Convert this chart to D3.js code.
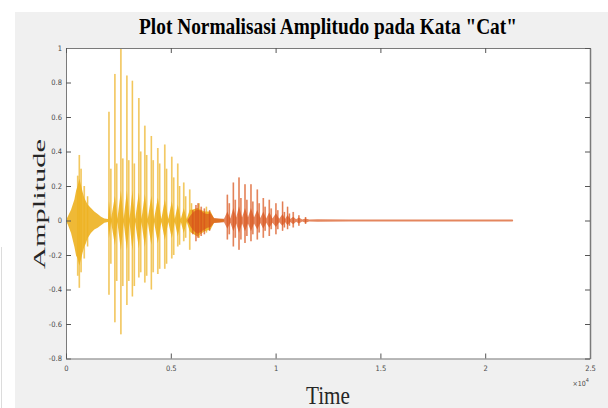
<!DOCTYPE html>
<html><head><meta charset="utf-8">
<script src="https://cdn.jsdelivr.net/npm/d3@7"></script>
<style>html,body{margin:0;padding:0;background:#fff;}svg{display:block;}</style>
</head><body>
<script>
// ---- data ----
const chartTitle = 'Plot Normalisasi Amplitudo pada Kata "Cat"';
const xLabel = "Time";
const yLabel = "Amplitude";
const xTicks = [0, 5000, 10000, 15000, 20000, 25000];
const xTickLabels = ["0", "0.5", "1", "1.5", "2", "2.5"];
const yTicks = [-0.8, -0.6, -0.4, -0.2, 0, 0.2, 0.4, 0.6, 0.8, 1];
const yTickLabels = ["-0.8", "-0.6", "-0.4", "-0.2", "0", "0.2", "0.4", "0.6", "0.8", "1"];
const xExponent = "4";

// series 1 (yellow): dense body envelope
const yellowBodyT  = [0, 80, 240, 400, 480, 560, 635, 720, 800, 870, 950, 1030, 1190, 1350, 1510, 1670, 1830, 2000, 2050, 2150, 2333, 2450, 2619, 2750, 2905, 3030, 3167, 3300, 3476, 3600, 3762, 3900, 4071, 4200, 4381, 4550, 4714, 4880, 5048, 5190, 5333, 5480, 5619, 5760, 5905, 6000, 6270, 6600, 6900, 7063, 7520, 7550];
const yellowBodyHi = [0, 0.02, 0.06, 0.12, 0.17, 0.2, 0.24, 0.2, 0.16, 0.13, 0.11, 0.09, 0.07, 0.05, 0.035, 0.02, 0.01, 0.006, 0.11, 0.006, 0.14, 0.006, 0.17, 0.006, 0.17, 0.006, 0.17, 0.006, 0.16, 0.006, 0.15, 0.006, 0.14, 0.006, 0.13, 0.006, 0.12, 0.006, 0.11, 0.006, 0.09, 0.006, 0.07, 0.006, 0.06, 0.06, 0.07, 0.05, 0.05, 0.01, 0.005, 0];
const yellowBodyLo = [0, -0.02, -0.07, -0.15, -0.2, -0.22, -0.26, -0.22, -0.18, -0.15, -0.13, -0.1, -0.07, -0.05, -0.04, -0.025, -0.01, -0.006, -0.1, -0.006, -0.14, -0.006, -0.17, -0.006, -0.17, -0.006, -0.17, -0.006, -0.16, -0.006, -0.15, -0.006, -0.14, -0.006, -0.13, -0.006, -0.11, -0.006, -0.1, -0.006, -0.09, -0.006, -0.07, -0.006, -0.06, -0.07, -0.09, -0.06, -0.05, -0.01, -0.005, 0];
// series 1 (yellow): individual peaks
const yellowSpikeT  = [560, 635, 720, 870, 1030, 2050, 2140, 2333, 2420, 2619, 2710, 2905, 2995, 3167, 3260, 3476, 3565, 3762, 3850, 4071, 4160, 4381, 4470, 4714, 4800, 5048, 5140, 5333, 5420, 5619, 5710, 5905, 5990, 6350, 6700];
const yellowSpikeHi = [0.26, 0.38, 0.3, 0.2, 0.14, 0.63, 0.3, 0.85, 0.33, 1.0, 0.36, 0.84, 0.35, 0.81, 0.33, 0.71, 0.4, 0.55, 0.38, 0.49, 0.35, 0.42, 0.33, 0.44, 0.3, 0.37, 0.25, 0.33, 0.2, 0.22, 0.14, 0.18, 0.1, 0.1, 0.08];
const yellowSpikeLo = [-0.32, -0.39, -0.3, -0.22, -0.15, -0.43, -0.25, -0.59, -0.35, -0.66, -0.38, -0.49, -0.35, -0.44, -0.38, -0.33, -0.3, -0.36, -0.32, -0.4, -0.3, -0.31, -0.28, -0.28, -0.25, -0.22, -0.2, -0.15, -0.14, -0.12, -0.1, -0.17, -0.07, -0.1, -0.07];

// series 2 (orange): dense body envelope
const orangeBodyT  = [5794, 5952, 6110, 6270, 6430, 6587, 6750, 6905, 7063, 7300, 7540, 7698, 7840, 7984, 8120, 8254, 8400, 8540, 8680, 8825, 8970, 9127, 9270, 9413, 9550, 9698, 9850, 10016, 10170, 10333, 10450, 10571, 10700, 10841, 10980, 11111, 11270, 11429, 11600, 12000, 13500, 15000, 16500, 18000, 19500, 21300, 21330];
const orangeBodyHi = [0, 0.03, 0.05, 0.06, 0.055, 0.04, 0.035, 0.04, 0.012, 0.01, 0.008, 0.05, 0.01, 0.07, 0.015, 0.08, 0.015, 0.07, 0.015, 0.07, 0.015, 0.06, 0.012, 0.05, 0.01, 0.045, 0.01, 0.04, 0.008, 0.035, 0.007, 0.03, 0.006, 0.02, 0.005, 0.015, 0.004, 0.01, 0.004, 0.005, 0.003, 0.003, 0.003, 0.003, 0.003, 0.003, 0];
const orangeBodyLo = [0, -0.035, -0.06, -0.075, -0.065, -0.05, -0.04, -0.035, -0.012, -0.01, -0.008, -0.045, -0.01, -0.06, -0.015, -0.07, -0.015, -0.06, -0.015, -0.06, -0.015, -0.05, -0.012, -0.045, -0.01, -0.04, -0.01, -0.035, -0.008, -0.03, -0.007, -0.025, -0.006, -0.02, -0.005, -0.015, -0.004, -0.01, -0.004, -0.005, -0.003, -0.003, -0.003, -0.003, -0.003, -0.003, 0];
// series 2 (orange): individual peaks
const orangeSpikeT  = [6050, 6200, 6300, 6450, 6600, 6850, 7698, 7790, 7984, 8075, 8254, 8345, 8540, 8630, 8825, 8915, 9127, 9215, 9413, 9500, 9698, 9790, 10016, 10105, 10333, 10420, 10571, 10660, 10841, 11111, 11429];
const orangeSpikeHi = [0.06, 0.09, 0.1, 0.08, 0.07, 0.06, 0.15, 0.1, 0.22, 0.12, 0.25, 0.13, 0.21, 0.12, 0.21, 0.11, 0.18, 0.1, 0.13, 0.08, 0.12, 0.07, 0.10, 0.06, 0.11, 0.05, 0.08, 0.04, 0.05, 0.03, 0.02];
const orangeSpikeLo = [-0.08, -0.12, -0.1, -0.09, -0.08, -0.06, -0.11, -0.08, -0.15, -0.1, -0.17, -0.11, -0.13, -0.09, -0.12, -0.08, -0.11, -0.07, -0.10, -0.06, -0.09, -0.05, -0.08, -0.05, -0.06, -0.04, -0.05, -0.03, -0.04, -0.03, -0.02];

const colors = {yellow: "#EDB120", orange: "#D95319"};

// ---- drawing ----
const W = 608, H = 408;
const svg = d3.select("body").append("svg").attr("width", W).attr("height", H);
svg.append("rect").attr("x", 15).attr("y", 12).attr("width", W - 15).attr("height", H - 12).attr("fill", "#f0f0f0");
svg.append("line").attr("x1", 1.5).attr("x2", 1.5).attr("y1", 247).attr("y2", H).attr("stroke", "#dcdcdc").attr("stroke-width", 1);

const x = d3.scaleLinear().domain([0, 25000]).range([66, 590]);
const y = d3.scaleLinear().domain([-0.8, 1]).range([358.5, 48]);

svg.append("rect").attr("x", x(0)).attr("y", y(1)).attr("width", x(25000) - x(0)).attr("height", y(-0.8) - y(1)).attr("fill", "#fff");

svg.append("clipPath").attr("id", "clip").append("rect")
  .attr("x", x(0)).attr("y", y(1) - 1).attr("width", x(25000) - x(0)).attr("height", y(-0.8) - y(1) + 1);
const plot = svg.append("g").attr("clip-path", "url(#clip)");

function drawSeries(T, Hi, Lo, sT, sHi, sLo, color, bodyOpacity) {
  const body = T.map((t, i) => ({t, hi: Hi[i], lo: Lo[i]}));
  const spikes = sT.map((t, i) => ({t, hi: sHi[i], lo: sLo[i]}));
  const g = plot.append("g");
  g.selectAll("line.s").data(spikes).join("line").attr("class", "s")
    .attr("x1", d => x(d.t)).attr("x2", d => x(d.t))
    .attr("y1", d => y(d.hi)).attr("y2", d => y(d.lo))
    .attr("stroke", color).attr("stroke-width", 1.8).attr("stroke-opacity", 0.45);
  g.selectAll("line.c").data(spikes).join("line").attr("class", "c")
    .attr("x1", d => x(d.t)).attr("x2", d => x(d.t))
    .attr("y1", d => y(d.hi)).attr("y2", d => y(d.lo))
    .attr("stroke", color).attr("stroke-width", 0.7).attr("stroke-opacity", 0.85);
  const area = d3.area().x(d => x(d.t)).y0(d => y(d.lo) + 0.4).y1(d => y(d.hi) - 0.4);
  g.append("path").datum(body).attr("d", area).attr("fill", color).attr("fill-opacity", bodyOpacity);
}
drawSeries(yellowBodyT, yellowBodyHi, yellowBodyLo, yellowSpikeT, yellowSpikeHi, yellowSpikeLo, colors.yellow, 0.9);
drawSeries(orangeBodyT, orangeBodyHi, orangeBodyLo, orangeSpikeT, orangeSpikeHi, orangeSpikeLo, colors.orange, 0.7);

// axes
const tickFont = "'DejaVu Sans Condensed', 'Liberation Sans', sans-serif";
const axColor = "#7a7a7a";
const gl = svg.append("g").attr("transform", `translate(${x(0)},0)`)
  .call(d3.axisLeft(y).tickValues(yTicks).tickFormat((d, i) => yTickLabels[i]).tickSizeInner(-5).tickSizeOuter(0).tickPadding(4));
const gb = svg.append("g").attr("transform", `translate(0,${y(-0.8)})`)
  .call(d3.axisBottom(x).tickValues(xTicks).tickFormat((d, i) => xTickLabels[i]).tickSizeInner(-5).tickSizeOuter(0).tickPadding(7));
const gt = svg.append("g").attr("transform", `translate(0,${y(1)})`)
  .call(d3.axisTop(x).tickValues(xTicks).tickFormat("").tickSizeInner(-5).tickSizeOuter(0));
const gr = svg.append("g").attr("transform", `translate(${x(25000)},0)`)
  .call(d3.axisRight(y).tickValues(yTicks).tickFormat("").tickSizeInner(-5).tickSizeOuter(0));
[gl, gb, gt, gr].forEach(g => {
  g.selectAll("path.domain").attr("stroke", axColor).attr("stroke-width", 1);
  g.selectAll(".tick line").attr("stroke", "#555");
  g.selectAll("text").attr("fill", "#4a4a4a").style("font-family", tickFont).style("font-size", "7.5px");
});
gr.select("path.domain").attr("stroke-width", 1.5);

// exponent
const ex = svg.append("text").attr("x", 589).attr("y", 386).attr("text-anchor", "end")
  .style("font-family", tickFont).style("font-size", "7px").attr("fill", "#4a4a4a");
ex.append("tspan").text("\u00d710");
ex.append("tspan").attr("dy", -4).style("font-size", "5.5px").text(xExponent);

// labels
const serif = "'Liberation Serif', 'Times New Roman', serif";
svg.append("text").attr("x", 328).attr("y", 34).attr("text-anchor", "middle")
  .attr("textLength", 378).attr("lengthAdjust", "spacingAndGlyphs")
  .style("font-family", serif).style("font-weight", "bold").style("font-size", "24px").attr("fill", "#000")
  .text(chartTitle);
svg.append("text").attr("x", 328).attr("y", 404).attr("text-anchor", "middle")
  .attr("textLength", 44).attr("lengthAdjust", "spacingAndGlyphs")
  .style("font-family", serif).style("font-size", "25px").attr("fill", "#262626")
  .text(xLabel);
svg.append("text").attr("transform", "translate(45,204) scale(0.72,1) rotate(-90)").attr("text-anchor", "middle")
  .attr("textLength", 130).attr("lengthAdjust", "spacingAndGlyphs")
  .style("font-family", serif).style("font-size", "24px").attr("fill", "#262626")
  .text(yLabel);
</script>
</body></html>
